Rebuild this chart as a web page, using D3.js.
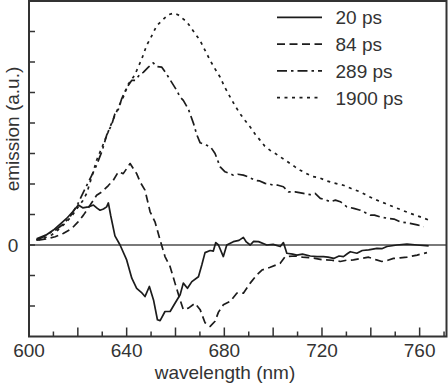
<!DOCTYPE html>
<html><head><meta charset="utf-8">
<script src="https://cdn.jsdelivr.net/npm/d3@7"></script>
<style>
html,body{margin:0;padding:0;background:#fff;}
svg{display:block;}
text{font-family:"Liberation Sans",Arial,sans-serif;fill:#333;}
</style></head>
<body><svg id="c" width="448" height="385"></svg>
<script>
// ---- data ----
const wl20 = [603,606,610,613,615.4,618,620.2,622,624.3,626.4,628,629.1,630.5,631.8,632.5,633.5,635.2,637.3,640,642.1,644.1,646,647.5,649.3,651,652.6,653.7,655.7,657.8,659.8,661.9,663.2,664.9,666.7,669.4,670.8,672.1,674.2,675.5,676.5,677.6,679.6,681,683.7,686,687.8,689,690.6,692,694,697.4,700,702.9,704.2,705.6,708,709.7,712,715.2,718,720.6,722.5,724.8,727,728.8,730.5,731.6,734.3,736.5,739.1,742.5,744.5,746.6,750.7,754.8,759,763.7];
const v20 = [0.16,0.27,0.49,0.70,0.87,1.10,1.31,1.22,1.25,1.31,1.20,1.14,1.18,1.25,1.38,0.95,0.30,0.0,-0.49,-1.09,-1.42,-1.55,-1.69,-1.36,-1.80,-2.45,-2.48,-2.18,-2.18,-1.91,-1.63,-1.25,-1.42,-1.20,-1.04,-0.65,-0.25,-0.18,-0.20,0.08,0.0,-0.38,0.0,0.11,0.15,0.25,0.1,0.0,0.12,0.11,0.0,0.02,-0.05,0.08,-0.27,-0.30,-0.33,-0.30,-0.36,-0.38,-0.38,-0.40,-0.44,-0.36,-0.38,-0.28,-0.22,-0.27,-0.18,-0.16,-0.11,-0.12,-0.05,0.0,0.03,0.0,-0.03];

const wl84 = [603.8,607,610.7,614,617.5,620,622.3,625,627.7,630,632.5,634.5,636.6,638.6,641.4,644.1,645.5,647.5,649.6,651.6,653.7,655.7,657.8,659.8,661.9,663.2,665.3,668,670.1,672.1,674.2,676.2,677.6,679.6,682.4,685.1,687.8,690.6,693.3,695.4,698.8,702.9,704.9,709,712,716,720,724,727.5,730,732.9,736,739.1,742,744.5,747,749.3,752,754.8,759,763];
const v84 = [0.16,0.2,0.27,0.38,0.54,0.75,0.98,1.3,1.63,1.75,1.95,2.12,2.40,2.34,2.67,2.34,2.07,1.80,1.09,0.76,0.16,-0.38,-0.71,-1.25,-1.80,-2.12,-2.07,-1.91,-2.12,-2.55,-2.67,-2.50,-2.20,-1.96,-1.85,-1.58,-1.58,-1.25,-0.98,-0.82,-0.73,-0.60,-0.38,-0.36,-0.40,-0.42,-0.48,-0.50,-0.54,-0.50,-0.49,-0.44,-0.40,-0.48,-0.54,-0.50,-0.44,-0.42,-0.40,-0.33,-0.25];

const wl289 = [603.1,607,611,614,617,620,623,625.5,627.7,630,631.8,633.9,635.2,636.6,638,640,642.1,643.5,645.5,646.8,648.9,650.9,652.5,654.4,656.4,658,660.5,661.9,663.2,665.3,667.4,668.7,670.1,672.8,674.5,676.2,678.3,680.3,682,683.7,685.5,687.8,689.9,692.6,694.5,696.7,698.5,700.1,702,704.2,706.3,709,712.4,715.2,717.2,719.3,721.5,723.4,725.5,727.5,730.2,733,735.7,738,739.8,741.5,743.9,747.3,749.5,752,756.1,759,761.6];
const v289 = [0.2,0.33,0.5,0.68,0.95,1.35,1.85,2.25,2.62,3.1,3.6,3.95,4.3,4.45,4.8,5.15,5.4,5.4,5.6,5.66,5.83,5.97,5.85,5.83,5.6,5.39,5.07,4.85,4.74,4.45,3.98,3.62,3.35,3.27,3.2,3.0,2.56,2.4,2.35,2.29,2.32,2.29,2.23,2.12,2.1,2.02,2.0,1.96,1.96,1.91,1.74,1.74,1.69,1.65,1.69,1.53,1.48,1.42,1.47,1.42,1.25,1.2,1.14,1.05,0.98,0.98,0.92,0.87,0.85,0.76,0.71,0.66,0.6];

const wl1900 = [603.1,606,609.3,612,614.8,617.5,620.2,622,623.6,625.7,627.7,630.5,633.2,635.2,637.3,638.6,640.7,642.7,644.1,646.2,648.2,649.6,652.3,655,657,659.2,661,664.6,667,670.1,672,674.2,676,678.3,680,682.4,684.5,686.5,688.5,690.6,692.5,694.7,696.5,698.8,700.9,702.9,705,707,709,711.1,713.5,716,719,722,725,728.8,732,735.7,739,742.5,746,749.3,752.5,756.1,760,763.7];
const v1900 = [0.16,0.22,0.33,0.5,0.71,0.95,1.25,1.45,1.69,2.23,2.78,3.32,3.87,4.25,4.63,4.85,5.28,5.5,5.72,6.1,6.55,6.75,7.19,7.4,7.55,7.6,7.55,7.32,7.05,6.7,6.4,6.05,5.8,5.5,5.2,4.85,4.55,4.3,4.08,3.87,3.65,3.43,3.25,3.1,3.0,2.89,2.78,2.67,2.56,2.45,2.35,2.25,2.2,2.1,2.03,1.96,1.85,1.74,1.6,1.47,1.36,1.25,1.15,1.04,0.93,0.82];

const seriesNames = ["20 ps","84 ps","289 ps","1900 ps"];
const xTickLabels = [600,640,680,720,760];
const yTickLabels = [0];

// ---- chart ----
const svg = d3.select("#c");
const x = d3.scaleLinear().domain([600,771]).range([29,446.5]);
const y = d3.scaleLinear().domain([-3,8]).range([336.5,1]);
const ink = "#1c1c1c";
const dashes = ["none","8,4.5","10,4,2.5,4","3,4.5"];

const data = [[wl20,v20],[wl84,v84],[wl289,v289],[wl1900,v1900]];

// zero line
svg.append("line").attr("x1",x(600)).attr("x2",x(771)).attr("y1",y(0)).attr("y2",y(0))
  .attr("stroke","#7a7a7a").attr("stroke-width",2);

const line = d3.line().x(d=>x(d[0])).y(d=>y(d[1]));
data.forEach((s,i)=>{
  const pts = s[0].map((w,j)=>[w,s[1][j]]);
  svg.append("path").datum(pts).attr("d",line).attr("fill","none")
    .attr("stroke",ink).attr("stroke-width",1.7)
    .attr("stroke-dasharray",dashes[i]).attr("stroke-linejoin","round");
});

// x axis ticks (inward)
const xAx = d3.axisBottom(x).tickValues(d3.range(610,771,10)).tickSize(0).tickFormat("");
svg.append("g").selectAll("line").data(d3.range(610,771,10)).join("line")
  .attr("x1",d=>x(d)).attr("x2",d=>x(d)).attr("y1",y(-3)).attr("y2",d=>y(-3)-(d%20===0?9:5))
  .attr("stroke","#333").attr("stroke-width",1.5);
svg.append("g").selectAll("text").data(xTickLabels).join("text")
  .attr("x",d=>x(d)).attr("y",356.5).attr("text-anchor","middle").attr("font-size",19).text(d=>d);

// y ticks (inward)
svg.append("g").selectAll("line").data(d3.range(-2,8,1)).join("line")
  .attr("x1",x(600)).attr("x2",x(600)+6).attr("y1",d=>y(d)).attr("y2",d=>y(d))
  .attr("stroke","#333").attr("stroke-width",1.5);
svg.append("g").selectAll("text").data(yTickLabels).join("text")
  .attr("x",13).attr("y",d=>y(d)+7).attr("text-anchor","middle").attr("font-size",19).text(d=>d);

// frame
svg.append("rect").attr("x",x(600)).attr("y",y(8)).attr("width",x(771)-x(600)).attr("height",y(-3)-y(8))
  .attr("fill","none").attr("stroke","#333").attr("stroke-width",2);

// axis titles
svg.append("text").attr("x",225).attr("y",379).attr("text-anchor","middle").attr("font-size",19).text("wavelength (nm)");
svg.append("text").attr("transform","translate(19,129) rotate(-90)").attr("text-anchor","middle").attr("font-size",19).text("emission (a.u.)");

// legend
const lg = svg.append("g");
seriesNames.forEach((n,i)=>{
  const yy = 17.3 + i*26.8;
  lg.append("line").attr("x1",277).attr("x2",322).attr("y1",yy).attr("y2",yy)
    .attr("stroke",ink).attr("stroke-width",1.7).attr("stroke-dasharray",dashes[i]);
  lg.append("text").attr("x",335.5).attr("y",yy+7).attr("font-size",19).text(n);
});
</script></body></html>
